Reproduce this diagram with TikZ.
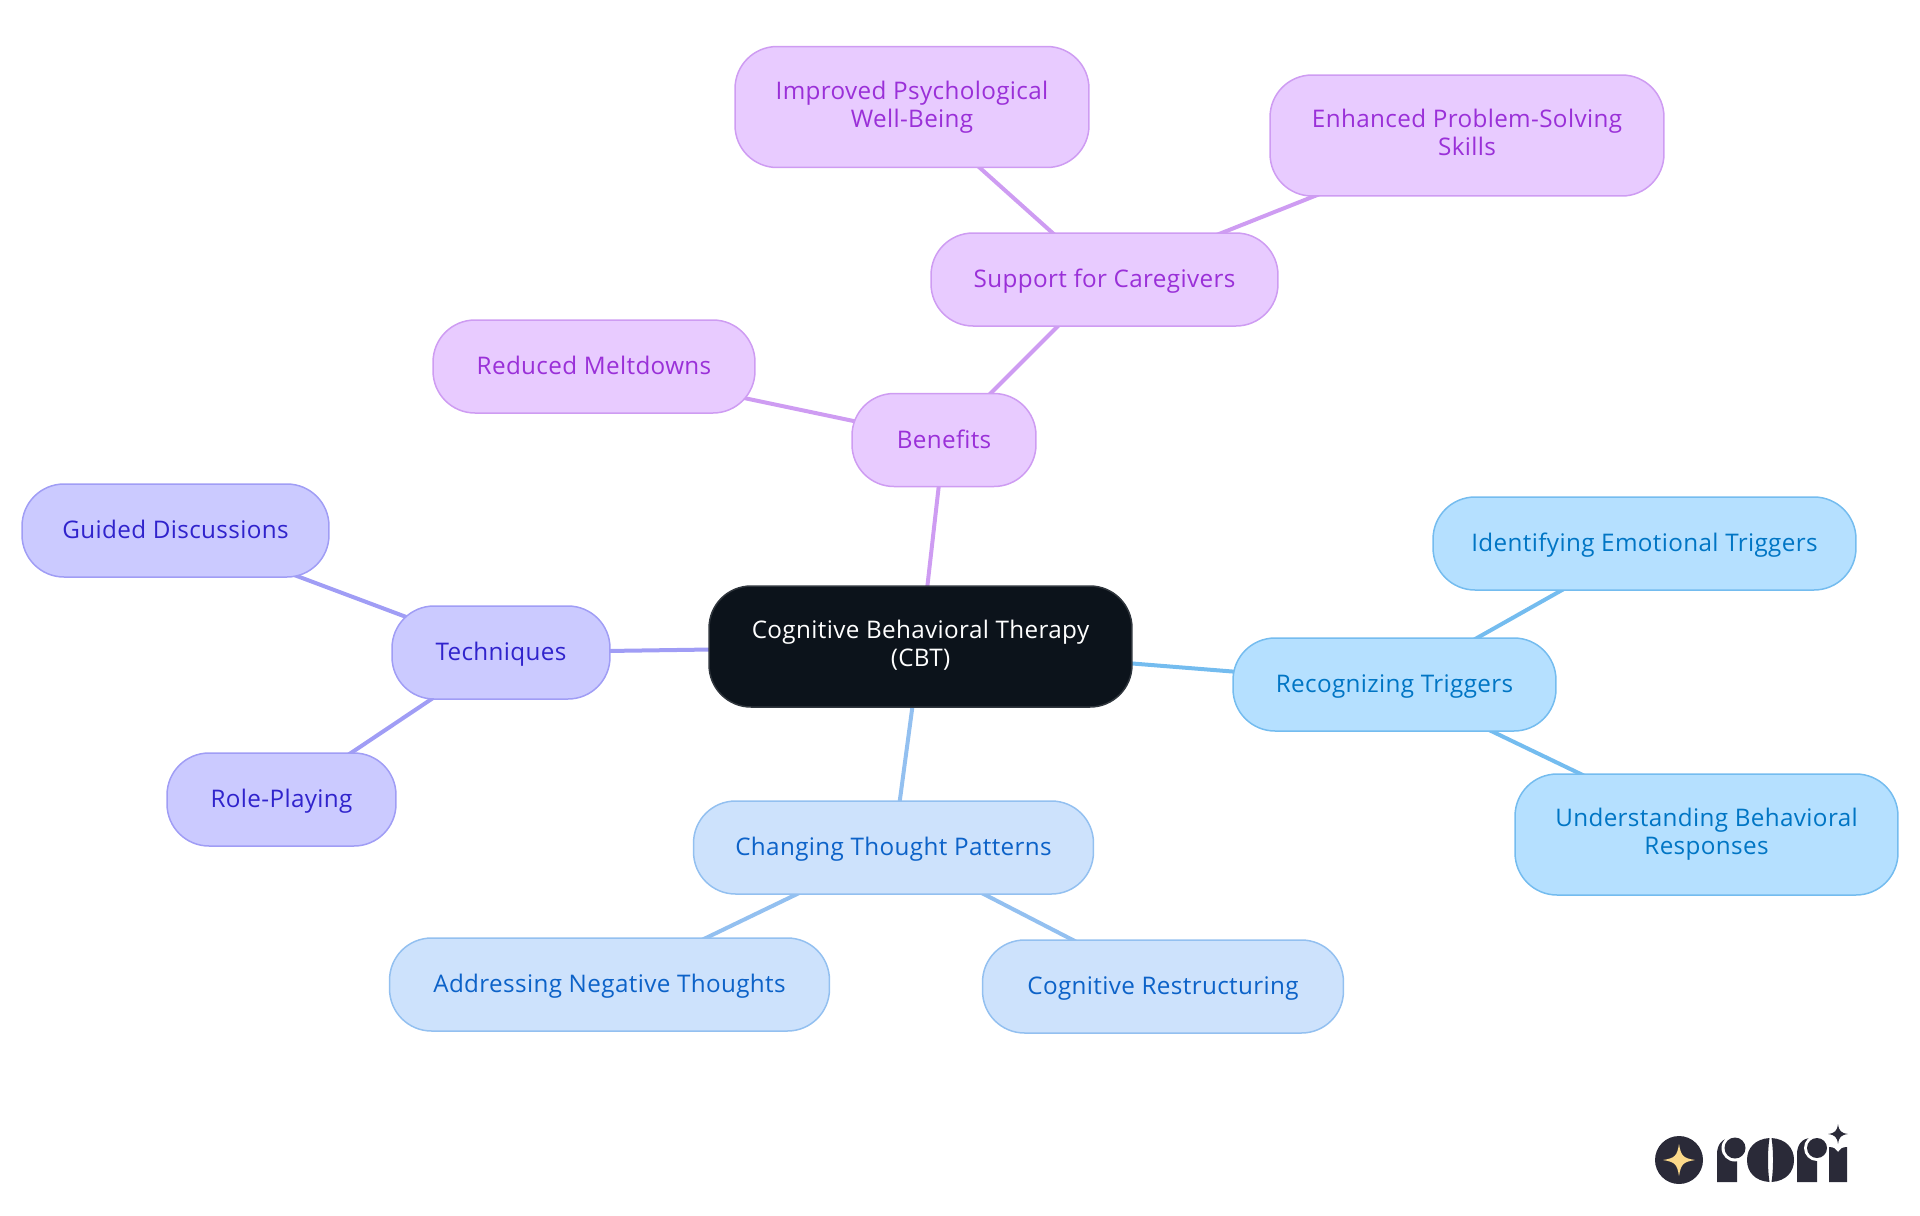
\documentclass[tikz,border=0pt]{standalone}
\usepackage{fontspec}
\setmainfont{Open Sans}[LetterSpace=1.5]
\usepackage{tikz}
\usetikzlibrary{backgrounds}
\definecolor{purpfill}{HTML}{E8CBFF}
\definecolor{purpline}{HTML}{CE9CF2}
\definecolor{purptext}{HTML}{9A30D8}
\definecolor{indfill}{HTML}{CBCAFF}
\definecolor{indline}{HTML}{A09DF5}
\definecolor{indtext}{HTML}{3023CC}
\definecolor{bluefill}{HTML}{CDE2FC}
\definecolor{blueline}{HTML}{93C0F0}
\definecolor{bluetext}{HTML}{0C62C8}
\definecolor{skyfill}{HTML}{B5E0FF}
\definecolor{skyline}{HTML}{74BCEF}
\definecolor{skytext}{HTML}{0075C4}
\definecolor{rootfill}{HTML}{0C131B}
\definecolor{logoink}{HTML}{2A2A38}
\definecolor{logostar}{HTML}{FBD98A}
\newcommand{\nodestrut}{\rule[-3.3pt]{0pt}{16pt}}

\begin{document}
\begin{tikzpicture}[
    x=0.02cm, y=-0.02cm,
    topic/.style={draw, line width=0.03cm, rounded corners=0.84cm, inner sep=0pt,
                  align=center, minimum height=1.86cm,
                  execute at begin node=\nodestrut, execute at end node=\nodestrut,
                  font=\fontsize{13.8pt}{16pt}\selectfont},
    tall/.style={minimum height=2.42cm},
    purp/.style={topic, fill=purpfill, draw=purpline, text=purptext},
    ind/.style={topic, fill=indfill, draw=indline, text=indtext},
    blue/.style={topic, fill=bluefill, draw=blueline, text=bluetext},
    sky/.style={topic, fill=skyfill, draw=skyline, text=skytext},
    link/.style={line width=0.08cm},
]
  \useasboundingbox (0,0) rectangle (1920,1215);

  % Centre
  \node[topic,fill=rootfill,draw=rootfill!85!white,text=white,tall,minimum width=8.46cm] (root) at (920.5,646.5)
    {Cognitive Behavioral Therapy\\(CBT)};

  % Benefits
  \node[purp,minimum width=3.68cm] (benefits) at (944,440) {Benefits};
  \node[purp,minimum width=6.94cm] (support) at (1104.5,279.5) {Support for Caregivers};
  \node[purp,minimum width=6.44cm] (meltdowns) at (594,366.5) {Reduced Meltdowns};
  \node[purp,tall,minimum width=7.08cm] (wellbeing) at (912,107) {Improved Psychological\\Well-Being};
  \node[purp,tall,minimum width=7.88cm] (solving) at (1467,135.5) {Enhanced Problem-Solving\\Skills};

  % Techniques
  \node[ind,minimum width=4.36cm] (techniques) at (501,652.5) {Techniques};
  \node[ind,minimum width=6.14cm] (guided) at (175.5,530.5) {Guided Discussions};
  \node[ind,minimum width=4.58cm] (role) at (281.5,799.5) {Role-Playing};

  % Thought patterns
  \node[blue,minimum width=8.00cm] (patterns) at (893.5,847.5) {Changing Thought Patterns};
  \node[blue,minimum width=8.80cm] (negative) at (609.5,984.5) {Addressing Negative Thoughts};
  \node[blue,minimum width=7.22cm] (restructuring) at (1163,986.5) {Cognitive Restructuring};

  % Triggers
  \node[sky,minimum width=6.46cm] (triggers) at (1394.5,684.5) {Recognizing Triggers};
  \node[sky,minimum width=8.46cm] (emotional) at (1644.5,543.5) {Identifying Emotional Triggers};
  \node[sky,tall,minimum width=7.66cm] (responses) at (1706.5,834.5) {Understanding Behavioral\\Responses};

  % Links behind the nodes
  \begin{pgfonlayer}{background}
    \draw[link,purpline] (root.center) -- (benefits.center);
    \draw[link,purpline] (benefits.center) -- (support.center);
    \draw[link,purpline] (benefits.center) -- (meltdowns.center);
    \draw[link,purpline] (support.center) -- (wellbeing.center);
    \draw[link,purpline] (support.center) -- (solving.center);
    \draw[link,indline] (root.center) -- (techniques.center);
    \draw[link,indline] (techniques.center) -- (guided.center);
    \draw[link,indline] (techniques.center) -- (role.center);
    \draw[link,blueline] (root.center) -- (patterns.center);
    \draw[link,blueline] (patterns.center) -- (negative.center);
    \draw[link,blueline] (patterns.center) -- (restructuring.center);
    \draw[link,skyline] (root.center) -- (triggers.center);
    \draw[link,skyline] (triggers.center) -- (emotional.center);
    \draw[link,skyline] (triggers.center) -- (responses.center);
  \end{pgfonlayer}

  % Logo
  \fill[logoink] (1679,1160) circle (24);
  \fill[logostar] (1679,1144) .. controls (1681,1156) and (1683,1158) .. (1695,1160)
    .. controls (1683,1162) and (1681,1164) .. (1679,1176)
    .. controls (1677,1164) and (1675,1162) .. (1663,1160)
    .. controls (1675,1158) and (1677,1156) .. (1679,1144) -- cycle;
  % r
  \fill[logoink] (1717,1182) -- (1717,1154) .. controls (1717,1145) and (1722,1138) .. (1731,1138)
    -- (1737,1138) -- (1737,1182) -- cycle;
  \fill[white] (1735,1148) circle (13.5);
  \fill[logoink] (1735,1148) circle (10.5);
  % o
  \fill[logoink] (1769.5,1138) .. controls (1755,1139) and (1747,1148) .. (1747,1160)
    .. controls (1747,1172) and (1755,1181) .. (1769.5,1182)
    .. controls (1767.5,1170) and (1767.5,1150) .. (1769.5,1138) -- cycle;
  \fill[logoink] (1771.5,1138) .. controls (1786,1139) and (1794,1148) .. (1794,1160)
    .. controls (1794,1172) and (1786,1181) .. (1771.5,1182)
    .. controls (1773.5,1170) and (1773.5,1150) .. (1771.5,1138) -- cycle;
  % r
  \fill[logoink] (1797,1182) -- (1797,1154) .. controls (1797,1145) and (1802,1138) .. (1811,1138)
    -- (1817,1138) -- (1817,1182) -- cycle;
  \fill[white] (1817,1148) circle (13);
  \fill[logoink] (1817,1148) circle (10);
  % i
  \fill[logoink] (1829,1182) -- (1829,1147) .. controls (1834,1147) and (1836,1149) .. (1838,1152)
    .. controls (1840,1149) and (1842,1147) .. (1847,1147) -- (1847,1182) -- cycle;
  \fill[logoink] (1838,1124) .. controls (1839,1131) and (1841,1133) .. (1848,1134)
    .. controls (1841,1135) and (1839,1137) .. (1838,1144)
    .. controls (1837,1137) and (1835,1135) .. (1828,1134)
    .. controls (1835,1133) and (1837,1131) .. (1838,1124) -- cycle;
\end{tikzpicture}
\end{document}
